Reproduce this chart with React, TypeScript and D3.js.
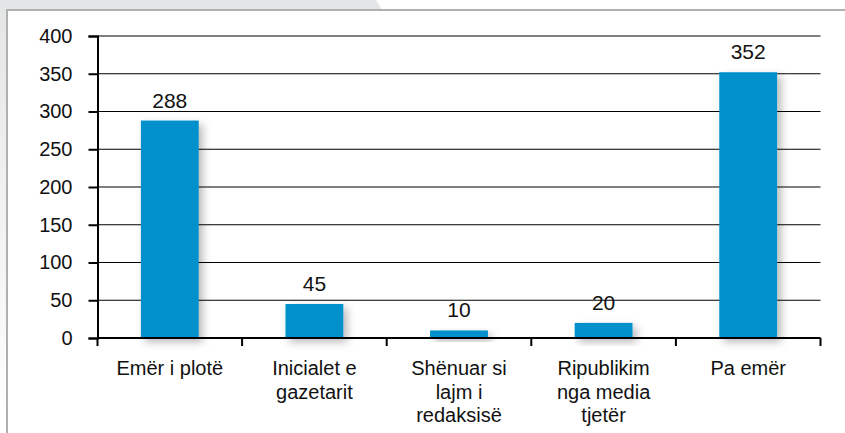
import React, { useEffect, useRef } from "react";
import * as d3 from "d3";

const categories = [
  "Emër i plotë",
  "Inicialet e gazetarit",
  "Shënuar si lajm i redaksisë",
  "Ripublikim nga media tjetër",
  "Pa emër",
];
// label lines for the wrapped category names
const categoryLines = [
  ["Emër i plotë"],
  ["Inicialet e", "gazetarit"],
  ["Shënuar si", "lajm i", "redaksisë"],
  ["Ripublikim", "nga media", "tjetër"],
  ["Pa emër"],
];
const values = [288, 45, 10, 20, 352];
const yTicks = [0, 50, 100, 150, 200, 250, 300, 350, 400];

const App = () => {
  const svgRef = useRef<SVGSVGElement>(null);
  const svgWidth = 845;
  const svgHeight = 433;

  useEffect(() => {
    document.body.style.margin = "0";
    const MARGIN = { TOP: 36, BOTTOM: 95, LEFT: 97.5, RIGHT: 24.5 };
    const WIDTH = svgWidth - MARGIN.LEFT - MARGIN.RIGHT;
    const HEIGHT = svgHeight - MARGIN.TOP - MARGIN.BOTTOM;
    const FONT = "'Liberation Sans', Arial, sans-serif";

    const svg = d3.select(svgRef.current);
    svg.selectAll("*").remove();

    const defs = svg.append("defs");
    const grad = defs
      .append("linearGradient")
      .attr("id", "bgGrad")
      .attr("x1", 0)
      .attr("y1", 0)
      .attr("x2", 0)
      .attr("y2", 1);
    grad.append("stop").attr("offset", "0%").attr("stop-color", "#e4e5e6");
    grad.append("stop").attr("offset", "100%").attr("stop-color", "#ffffff");

    const shadow = defs
      .append("filter")
      .attr("id", "barShadow")
      .attr("x", "-30%")
      .attr("y", "-30%")
      .attr("width", "180%")
      .attr("height", "180%");
    shadow
      .append("feDropShadow")
      .attr("dx", 4)
      .attr("dy", 4)
      .attr("stdDeviation", 4)
      .attr("flood-color", "#000")
      .attr("flood-opacity", 0.28);

    // background frame
    svg
      .append("rect")
      .attr("width", svgWidth)
      .attr("height", svgHeight)
      .attr("fill", "url(#bgGrad)");
    svg
      .append("polygon")
      .attr("points", "376,0 845,0 845,10 382,10")
      .attr("fill", "#fff");
    svg
      .append("rect")
      .attr("x", 7)
      .attr("y", 10)
      .attr("width", svgWidth - 7)
      .attr("height", svgHeight - 10)
      .attr("fill", "#fff");
    svg
      .append("path")
      .attr("d", `M7,${svgHeight} V10 H${svgWidth}`)
      .attr("fill", "none")
      .attr("stroke", "#b0b0b0")
      .attr("stroke-width", 2);

    const g = svg
      .append("g")
      .attr("transform", `translate(${MARGIN.LEFT}, ${MARGIN.TOP})`);

    const x = d3
      .scaleBand()
      .domain(categories)
      .range([0, WIDTH])
      .paddingInner(0.6)
      .paddingOuter(0.3);

    const y = d3.scaleLinear().domain([0, 400]).range([HEIGHT, 0]);

    // gridlines
    g.selectAll("line.grid")
      .data(yTicks.filter((d) => d > 0))
      .enter()
      .append("line")
      .attr("class", "grid")
      .attr("x1", 0)
      .attr("x2", WIDTH)
      .attr("y1", (d) => y(d))
      .attr("y2", (d) => y(d))
      .attr("stroke", "#000")
      .attr("stroke-width", 1.2);

    // bars
    g.selectAll("rect.bar")
      .data(values)
      .enter()
      .append("rect")
      .attr("class", "bar")
      .attr("x", (d, i) => x(categories[i]) || 0)
      .attr("y", (d) => y(d))
      .attr("width", x.bandwidth())
      .attr("height", (d) => HEIGHT - y(d))
      .attr("fill", "#0091cd")
      .attr("filter", "url(#barShadow)");

    // value labels
    g.selectAll("text.val")
      .data(values)
      .enter()
      .append("text")
      .attr("class", "val")
      .attr("x", (d, i) => (x(categories[i]) || 0) + x.bandwidth() / 2)
      .attr("y", (d) => y(d) - 13)
      .attr("text-anchor", "middle")
      .attr("font-family", FONT)
      .attr("font-size", 21)
      .attr("fill", "#111")
      .text((d) => d);

    // y axis
    const yAxis = g
      .append("g")
      .call(d3.axisLeft(y).tickValues(yTicks).tickSize(9).tickPadding(16));
    yAxis.select(".domain").attr("stroke", "#000").attr("stroke-width", 2);
    yAxis.selectAll(".tick line").attr("stroke", "#000").attr("stroke-width", 2);
    yAxis
      .selectAll(".tick text")
      .attr("font-family", FONT)
      .attr("font-size", 20)
      .attr("fill", "#111");

    // x axis
    const xAxis = g.append("g").attr("transform", `translate(0, ${HEIGHT})`);
    xAxis
      .append("line")
      .attr("x1", 0)
      .attr("x2", WIDTH)
      .attr("stroke", "#000")
      .attr("stroke-width", 2);
    const edges = d3.range(categories.length + 1).map((i) => i * x.step());
    xAxis
      .selectAll("line.tick")
      .data(edges)
      .enter()
      .append("line")
      .attr("class", "tick")
      .attr("x1", (d) => d)
      .attr("x2", (d) => d)
      .attr("y1", 0)
      .attr("y2", 8)
      .attr("stroke", "#000")
      .attr("stroke-width", 2);

    const labels = xAxis
      .selectAll("text.cat")
      .data(categoryLines)
      .enter()
      .append("text")
      .attr("class", "cat")
      .attr("text-anchor", "middle")
      .attr("font-family", FONT)
      .attr("font-size", 20)
      .attr("fill", "#111")
      .attr("transform", (d, i) => `translate(${(x(categories[i]) || 0) + x.bandwidth() / 2}, 37)`);
    labels
      .selectAll("tspan")
      .data((d) => d)
      .enter()
      .append("tspan")
      .attr("x", 0)
      .attr("y", (d, i) => i * 23.5)
      .text((d) => d);
  }, []);

  return (
    <svg
      ref={svgRef}
      width={svgWidth}
      height={svgHeight}
      style={{ display: "block" }}
    />
  );
};

export default App;
